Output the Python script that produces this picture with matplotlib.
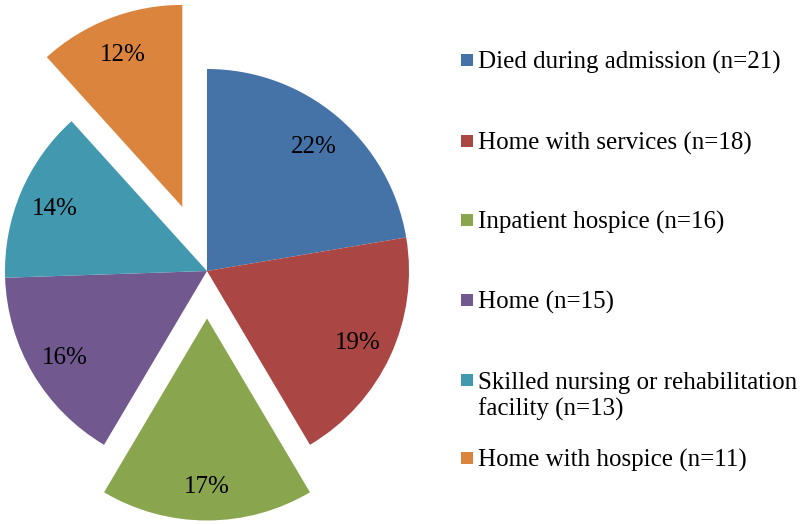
import matplotlib
matplotlib.use("Agg")
import matplotlib.pyplot as plt
from matplotlib.patches import Rectangle

categories = ["Died during admission (n=21)", "Home with services (n=18)",
              "Inpatient hospice (n=16)", "Home (n=15)",
              "Skilled nursing or rehabilitation\nfacility (n=13)",
              "Home with hospice (n=11)"]
counts = [21, 18, 16, 15, 13, 11]
colors = ["#4572A7", "#AA4643", "#89A54E", "#71588F", "#4198AF", "#DB843D"]
explode = [0, 0, 0.235, 0, 0, 0.34]

plt.rcParams['font.family'] = ['Liberation Serif', 'DejaVu Serif']

W, H = 800, 524
fig = plt.figure(figsize=(W / 100, H / 100), dpi=100)

cx, cy, R = 207, 271, 202  # pixel center (from top), radius
ax = fig.add_axes([0, 0, 414 / W, 1])
wedges, texts, autotexts = ax.pie(
    counts, colors=colors, explode=explode, startangle=90, counterclock=False,
    autopct=lambda p: f"{p:.0f}%", pctdistance=0.82,
    wedgeprops=dict(linewidth=0),
    textprops=dict(fontsize=18, color="black"))
for t in autotexts:
    t.set_va('center_baseline')
ax.set_aspect('auto')
ax.set_xlim(-207 / R, 207 / R)
ax.set_ylim(-(H - cy) / R, cy / R)
ax.axis('off')

# Legend drawn in figure pixel coordinates
ycent = [60, 141, 220, 300, 380, 458]
line_gap = 27
for lab, col, yc in zip(categories, colors, ycent):
    lines = lab.split("\n")
    fig.patches.append(Rectangle((461 / W, 1 - (yc + 6) / H), 12 / W, 12 / H,
                                 transform=fig.transFigure, facecolor=col,
                                 edgecolor='none'))
    for k, ln in enumerate(lines):
        fig.text(478 / W, 1 - (yc + k * line_gap) / H, ln, fontsize=18,
                 va='center_baseline', ha='left', color='black')

fig.savefig("out.png", dpi=100)
